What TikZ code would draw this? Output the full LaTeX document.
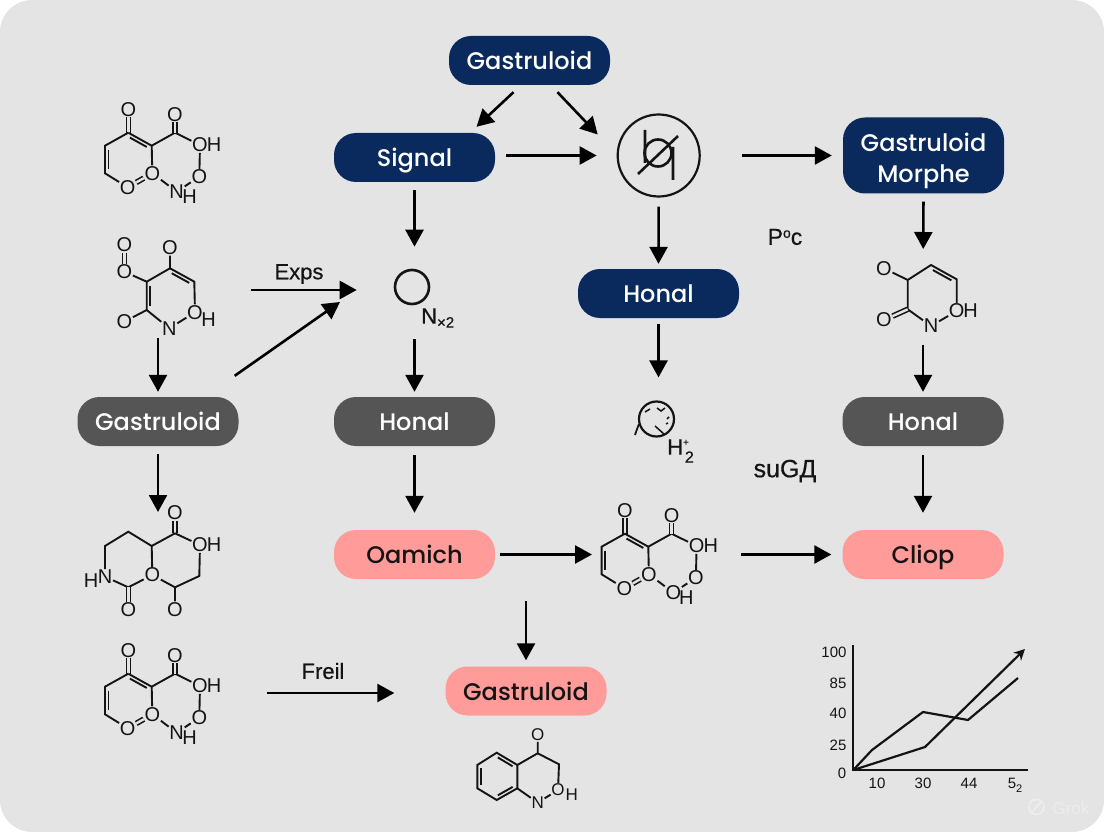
\documentclass[tikz,border=0pt]{standalone}
\usepackage{fontspec}
\setmainfont{Liberation Sans}
\newfontfamily\pillfont{Poppins Medium}
\newfontfamily\tagfont[FakeBold=0.5]{Liberation Sans}
\usetikzlibrary{arrows.meta,calc}
\definecolor{navy}{HTML}{0A2A5E}
\definecolor{slate}{HTML}{555555}
\definecolor{salmon}{HTML}{FF9B99}
\definecolor{panel}{HTML}{E4E4E5}
\definecolor{ink}{HTML}{141414}
\definecolor{faint}{HTML}{EDEDED}
\tikzset{arr/.style 2 args={-{Triangle[length=17pt,width=18pt]},line width=2.6pt,draw=black,shorten <=#1pt,shorten >=#2pt},
  pill/.style={rounded corners=22pt,minimum width=161pt,minimum height=49pt,inner sep=0pt,font=\pillfont\fontsize{24}{31}\selectfont,text height=20pt,text depth=2pt},
  navypill/.style={pill,fill=navy,text=white},
  greypill/.style={pill,fill=slate,text=white},
  pinkpill/.style={pill,fill=salmon,text=ink},
  atom/.style={inner sep=0.6pt,font=\fontsize{20}{20}\selectfont,text=ink},
  smallatom/.style={atom,font=\fontsize{17}{17}\selectfont},
  bond/.style={line width=1.9pt,draw=ink},
  dbl/.style={line width=1.6pt,draw=ink,double=panel,double distance=2.4pt},
  tag/.style={inner sep=0pt,font=\tagfont\fontsize{22}{22}\selectfont,text=ink},
  tick/.style={inner sep=0pt,font=\fontsize{15}{15}\selectfont,text=ink},
  plotline/.style={line width=2.2pt,draw=ink,line join=round},
  pics/ketoacid/.style={code={
    \node[atom] (oa) at (-23.4,-36.4) {O};
    \coordinate (ca) at (-23.4,-13);
    \coordinate (cb) at (0,0);
    \coordinate (cc) at (-46.7,0);
    \coordinate (cd) at (-46.7,27.6);
    \node[atom] (ob) at (-24,41.6) {O};
    \node[atom] (oc) at (0.6,27.6) {O};
    \coordinate (ce) at (23.3,-13);
    \node[atom] (od) at (23.3,-31.4) {O};
    \node[atom] (oe) at (48.3,-0.7) {O};
    \node[atom] (he) at (62.5,-0.7) {H};
    \node[atom] (of) at (47.6,31) {O};
    \node[atom] (nb) at (25,46) {#1};
    \node[atom] (hb) at (38,51) {H};
    \draw[dbl] (oa) -- (ca);
    \draw[bond] (ca) -- (cb) -- (ce) -- (oe) -- (of) -- (nb) -- (oc) -- (cb);
    \draw[bond] (ca) -- (cc) -- (cd) -- (ob);
    \dblin{ca}{cb}{-3.5pt}
    \dblin{cc}{cd}{3.5pt}
    \draw[dbl] (ob) -- (oc);
    \draw[dbl] (ce) -- (od);
  }}}
\newcommand{\dblin}[3]{\draw[bond] ($(#1)!.14!(#2)!#3!90:(#2)$) -- ($(#2)!.14!(#1)!#3!-90:(#1)$);}
\begin{document}
\begin{tikzpicture}[x=1pt,y=-1pt]
\useasboundingbox (0,0) rectangle (1104,832);
\fill[white] (0,0) rectangle (1104,832);
\fill[panel,rounded corners=32pt] (0,0) rectangle (1104,832);
% process boxes
\node[navypill] (gasttop) at (529.5,60.5) {Gastruloid};
\node[navypill] (signal) at (414.5,157.5) {Signal};
\node[navypill,minimum height=76pt,text height=,text depth=,align=center] (morphe) at (923.5,155.5) {\rule{0pt}{29pt}Gastruloid\\Morphe};
\node[navypill] (honalnavy) at (658.5,293.5) {Honal};
\node[greypill] (gastgrey) at (158,421.5) {Gastruloid};
\node[greypill] (honalmid) at (414.5,421.5) {Honal};
\node[greypill] (honalright) at (923,421.5) {Honal};
\node[pinkpill] (oamich) at (414.5,554.5) {Oamich};
\node[pinkpill] (cliop) at (923,554.5) {Cliop};
\node[pinkpill] (gastpink) at (526,691) {Gastruloid};
% symbols
\node[circle,draw=ink,line width=2.2pt,minimum size=82pt,inner sep=0pt] (phi) at (658.7,155.5) {};
\draw[line width=2.6pt,draw=ink] (658,153) circle (13.5);
\draw[line width=2.6pt,draw=ink] (645,130) -- (645,163) (638,174) -- (678,136) (673,147) -- (673,180);
\node[circle,draw=ink,line width=2.6pt,minimum size=34pt,inner sep=0pt] (ring) at (412,287) {};
\node[tag,anchor=west] (ringtag) at (421,318) {N\raisebox{-4pt}{\fontsize{15}{15}\selectfont×2}};
\node[circle,draw=ink,line width=2.2pt,minimum size=35pt,inner sep=0pt] (coil) at (656.5,419) {};
\draw[line width=1.5pt,draw=ink] (645,412) -- (650,409) (657,408) -- (661,411) -- (665,408) (669,417) -- (667,419) (668,423) -- (666,424) (655,426) -- (664,434);
\draw[line width=1.8pt,draw=ink] (639,424) .. controls (637,429) and (636,432) .. (635,435);
\node[tag,anchor=west] (coiltag) at (667,451) {H\raisebox{9pt}{\fontsize{10}{10}\selectfont +}\kern-4pt\raisebox{-8pt}{\fontsize{16}{16}\selectfont 2}};
\node[tag,font=\tagfont\fontsize{23}{23}\selectfont] (poc) at (785,237) {P\raisebox{7pt}{\fontsize{14}{14}\selectfont o}c};
\node[tag,font=\tagfont\fontsize{25}{25}\selectfont] (sugd) at (785,471) {suGД};
\node[tag] (exps) at (299,274) {Exps};
\node[tag] (freil) at (323,671) {Freil};
% molecules
\pic (mola) at (151.7,145.7) {ketoacid={N}};
\pic (mole) at (151.7,686.7) {ketoacid={N}};
\pic (molc) at (648.3,546.7) {ketoacid={O}};
\begin{scope}[name prefix=molb-]
\node[atom] (oa) at (124.3,245) {O};
\node[atom] (ob) at (124.3,271.7) {O};
\coordinate (ca) at (146.7,281.7);
\coordinate (cb) at (170,268.3);
\node[atom] (oc) at (170,247.7) {O};
\coordinate (cc) at (194.3,281.7);
\node[atom] (od) at (195,312.3) {O};
\node[atom] (hd) at (208.5,319.3) {H};
\node[atom] (na) at (169.3,328.3) {N};
\coordinate (ce) at (146.7,310);
\node[atom] (oe) at (124.3,321.7) {O};
\draw[dbl] (oa) -- (ob);
\draw[bond] (ob) -- (ca) -- (cb) -- (oc);
\draw[bond] (cb) -- (cc) -- (od) -- (na) -- (ce) -- (ca);
\draw[bond] (ce) -- (oe);
\dblin{ca}{ce}{3.5pt}
\dblin{cb}{cc}{-3.5pt}
\end{scope}
\begin{scope}[name prefix=mold-]
\node[atom] (oa) at (175,512.7) {O};
\coordinate (ca) at (175,533.3);
\node[atom] (ob) at (200,545) {O};
\node[atom] (hb) at (214,545) {H};
\coordinate (cb) at (199.3,576);
\coordinate (cc) at (175,587.3);
\node[atom] (oc) at (175,609.3) {O};
\node[atom] (od) at (152.3,575) {O};
\coordinate (ce) at (151.7,546);
\coordinate (cf) at (128.3,531.7);
\coordinate (cg) at (105,546);
\node[atom] (na) at (105,576.7) {N};
\node[atom] (hn) at (91,580.7) {H};
\coordinate (ch) at (128.3,587.3);
\node[atom] (oe) at (128.3,610) {O};
\draw[dbl] (oa) -- (ca);
\draw[bond] (ca) -- (ob) -- (cb) -- (cc) -- (oc);
\draw[bond] (cc) -- (od) -- (ce) -- (ca);
\draw[bond] (ce) -- (cf) -- (cg) -- (na) -- (ch) -- (od);
\draw[dbl] (ch) -- (oe);
\end{scope}
\begin{scope}[name prefix=molr-]
\node[atom] (oa) at (884,268.3) {O};
\coordinate (ca) at (907.7,280);
\coordinate (cb) at (931,265);
\coordinate (cc) at (956.7,279.3);
\node[atom] (ob) at (956.7,311) {O};
\node[atom] (hb) at (970.5,311) {H};
\node[atom] (na) at (931,326) {N};
\coordinate (cd) at (907.7,309.3);
\node[atom] (oc) at (884,320) {O};
\draw[bond] (oa) -- (ca) -- (cb) -- (cc) -- (ob) -- (na) -- (cd) -- (ca);
\dblin{cb}{cc}{-3.5pt}
\draw[dbl] (cd) -- (oc);
\end{scope}
\begin{scope}[name prefix=molz-]
\node[smallatom] (oa) at (537.7,735) {O};
\coordinate (ca) at (537.7,753.3);
\coordinate (cb) at (559,764.3);
\node[smallatom] (ob) at (558,790) {O};
\node[smallatom] (hb) at (571.7,795) {H};
\node[smallatom] (na) at (537.7,802.7) {N};
\coordinate (cc) at (517.3,765);
\coordinate (cd) at (517.3,788.3);
\coordinate (ce) at (496.7,800);
\coordinate (cf) at (477.3,788.3);
\coordinate (cg) at (477.3,765);
\coordinate (ch) at (496.7,752.7);
\draw[bond] (oa) -- (ca) -- (cb) -- (ob) -- (na) -- (cd) -- (cc) -- (ca);
\draw[bond] (cc) -- (ch) -- (cg) -- (cf) -- (ce) -- (cd);
\dblin{ch}{cc}{-3.5pt}
\dblin{cd}{ce}{-3.5pt}
\dblin{cf}{cg}{-3.5pt}
\end{scope}
% connectors
\coordinate (molbtop) at (158,300);
\coordinate (molbot) at (158,560);
\coordinate (molrc) at (923,297);
\coordinate (molcc) at (648,554.5);
\coordinate (moleo) at (152,693);
\coordinate (expsfrom) at (251,290);
\draw[arr={0}{0}] ([xshift=-16pt,yshift=-7pt]gasttop.south) -- ([xshift=62pt,yshift=6pt]signal.north);
\draw[arr={0}{0}] ([xshift=28pt,yshift=-7pt]gasttop.south) -- ([xshift=-61pt,yshift=21pt]phi.center);
\draw[arr={11}{20}] ([yshift=2pt]signal.east) -- (phi.west);
\draw[arr={41}{11}] (phi.east) -- (morphe.west);
\draw[arr={8}{22}] (signal.south) -- (signal.south |- ring.north);
\draw[arr={9}{5}] (phi.south) -- (honalnavy.north);
\draw[arr={8}{48}] (morphe.south) -- (molrc);
\draw[arr={6}{23}] (honalnavy.south) -- (honalnavy.south |- coil.north);
\draw[arr={0}{37}] (expsfrom) -- (expsfrom -| ring.west);
\draw[arr={0}{0}] ([xshift=-4pt,yshift=21pt]gastgrey.north east) -- ([xshift=-72pt,yshift=-15pt]ring.center);
\draw[arr={38}{5}] (molbtop) -- (gastgrey.north);
\draw[arr={8}{48}] (gastgrey.south) -- (molbot);
\draw[arr={34}{5}] (ring.south -| honalmid.north) -- (honalmid.north);
\draw[arr={9}{17}] (honalmid.south) -- (oamich.north);
\draw[arr={5}{56}] (oamich.east) -- (molcc);
\draw[arr={93}{11}] (molcc) -- (cliop.west);
\draw[arr={22}{6}] (oamich.south -| gastpink.north) -- (gastpink.north);
\draw[arr={48}{5}] (molrc) -- (honalright.north);
\draw[arr={9}{17}] (honalright.south) -- (cliop.north);
\draw[arr={115}{51}] (moleo) -- (moleo -| gastpink.west);
% chart
\coordinate (plotorig) at (853.3,770);
\draw[line width=2.2pt,draw=ink] (853.3,645) -- (plotorig) -- (1028.3,770);
\draw[plotline,-{Stealth[length=11pt,width=11pt]}] (plotorig) -- (925,747) -- (1025,649);
\draw[plotline] (plotorig) -- (872,750) -- (923,712) -- (968,720) -- (1018,678);
\node[tick] (ya) at (834,652) {100};
\node[tick] (yb) at (838,683) {85};
\node[tick] (yc) at (838,713) {40};
\node[tick] (yd) at (838,745) {25};
\node[tick] (ye) at (842,773) {0};
\node[tick] (xa) at (877,783) {10};
\node[tick] (xb) at (923,783) {30};
\node[tick] (xc) at (969,783) {44};
\node[tick] (xd) at (1015,785) {5\raisebox{-4pt}{\fontsize{11}{11}\selectfont 2}};
% mark in the corner
\draw[faint,line width=1.8pt] (1036.5,807) circle (7.5) (1031,813) -- (1042,801);
\node[inner sep=0pt,text=faint,font=\fontsize{17}{17}\selectfont] (grok) at (1071,808) {Grok};
\end{tikzpicture}
\end{document}
